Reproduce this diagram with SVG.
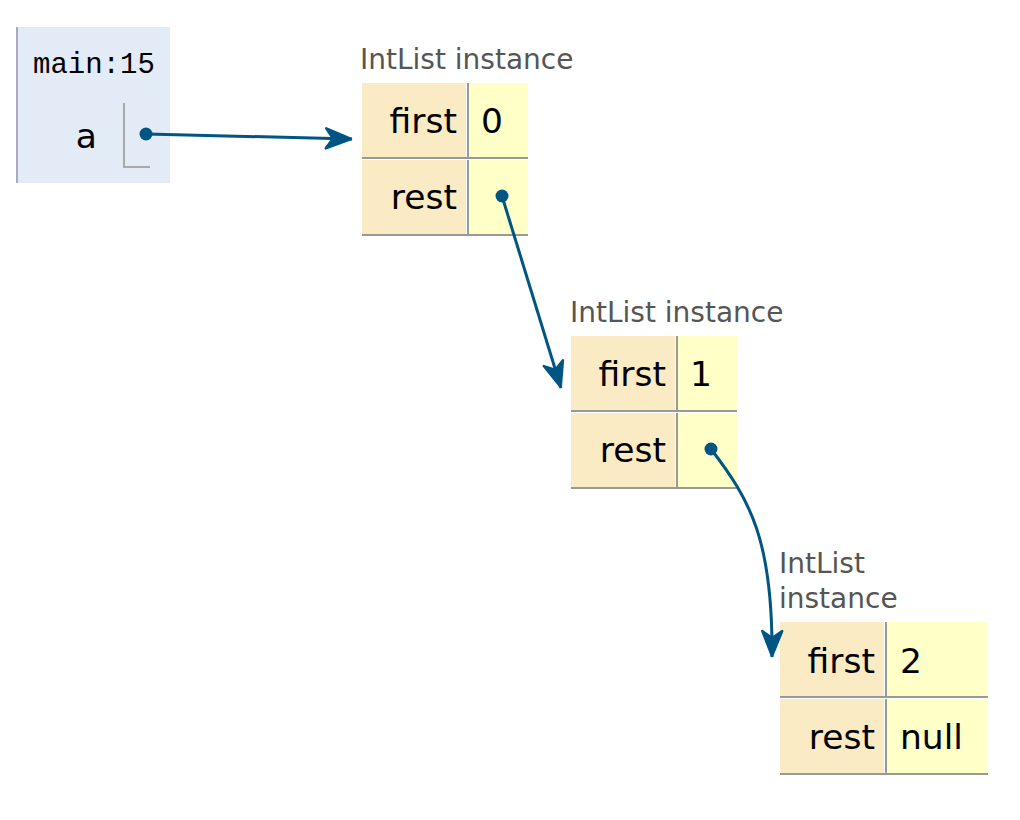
<svg xmlns="http://www.w3.org/2000/svg" width="1020" height="820" viewBox="0 0 1020 820">
<style>
.key{fill:#faebc4}
.val{fill:#ffffc8}
.bd{stroke:#999;stroke-width:2;fill:none}
.lbl{font-family:"DejaVu Sans",Verdana,sans-serif;font-size:28px;fill:#555}
.fld{font-family:"DejaVu Sans",Verdana,sans-serif;font-size:34.5px;fill:#000}
.kt{text-anchor:end}
.ptr{stroke:#005583;stroke-width:3;fill:none}
.dot{fill:#005583}
</style>
<defs>
<marker id="ah" markerUnits="userSpaceOnUse" markerWidth="40" markerHeight="30" viewBox="-30 -15 40 30" refX="0" refY="0" orient="auto">
<path d="M-26,-10 L-1,0 L-26,10 L-19,0 Z" fill="#005583" stroke="#005583" stroke-width="2.5" stroke-linejoin="round"/>
</marker>
</defs>
<rect width="1020" height="820" fill="#fff"/>
<g id="frame-main">
<rect x="17" y="27" width="153" height="156" fill="#e2ebf6"/>
<line x1="17" y1="27" x2="17" y2="183" stroke="#aab" stroke-width="2"/>
<text x="33" y="73" style="font-family:'Liberation Mono',monospace;font-size:29px;fill:#000">main:15</text>
<text x="97" y="148" class="fld kt">a</text>
<polyline points="124,103 124,167 150,167" stroke="#aaa" stroke-width="2" fill="none"/>
</g>
<g id="node1" transform="translate(362,83)">
<text x="-2" y="-14" class="lbl">IntList instance</text>
<rect x="0" y="0" width="104" height="74" class="key"/>
<rect x="107" y="0" width="59" height="74" class="val"/>
<line x1="0" y1="75" x2="166" y2="75" class="bd"/>
<line x1="106" y1="0" x2="106" y2="76" class="bd"/>
<rect x="0" y="77" width="104" height="74" class="key"/>
<rect x="107" y="77" width="59" height="74" class="val"/>
<line x1="0" y1="152" x2="166" y2="152" class="bd"/>
<line x1="106" y1="77" x2="106" y2="153" class="bd"/>
<text x="95" y="50" class="fld kt">first</text>
<text x="119" y="50" class="fld">0</text>
<text x="95" y="126" class="fld kt">rest</text>
</g>
<g id="node2" transform="translate(571,336)">
<text x="-1" y="-14" class="lbl">IntList instance</text>
<rect x="0" y="0" width="104" height="74" class="key"/>
<rect x="107" y="0" width="59" height="74" class="val"/>
<line x1="0" y1="75" x2="166" y2="75" class="bd"/>
<line x1="106" y1="0" x2="106" y2="76" class="bd"/>
<rect x="0" y="77" width="104" height="74" class="key"/>
<rect x="107" y="77" width="59" height="74" class="val"/>
<line x1="0" y1="152" x2="166" y2="152" class="bd"/>
<line x1="106" y1="77" x2="106" y2="153" class="bd"/>
<text x="95" y="50" class="fld kt">first</text>
<text x="119" y="50" class="fld">1</text>
<text x="95" y="126" class="fld kt">rest</text>
</g>
<g id="node3" transform="translate(780,622)">
<text x="-1" y="-49" class="lbl">IntList</text>
<text x="-1" y="-14" class="lbl">instance</text>
<rect x="0" y="0" width="104" height="74" class="key"/>
<rect x="107" y="0" width="101" height="74" class="val"/>
<line x1="0" y1="75" x2="208" y2="75" class="bd"/>
<line x1="106" y1="0" x2="106" y2="76" class="bd"/>
<rect x="0" y="77" width="104" height="74" class="key"/>
<rect x="107" y="77" width="101" height="74" class="val"/>
<line x1="0" y1="152" x2="208" y2="152" class="bd"/>
<line x1="106" y1="77" x2="106" y2="153" class="bd"/>
<text x="95" y="51" class="fld kt">first</text>
<text x="120" y="51" class="fld">2</text>
<text x="95" y="127" class="fld kt">rest</text>
<text x="120" y="127" class="fld">null</text>
</g>
<g id="connectors">
<path d="M146,134 L352,139" class="ptr" marker-end="url(#ah)"/>
<circle cx="146" cy="134" r="6.5" class="dot"/>
<path d="M502,196 L561,388" class="ptr" marker-end="url(#ah)"/>
<circle cx="502" cy="196" r="6.5" class="dot"/>
<path d="M711,449 C750,500 773,540 772,657" class="ptr" marker-end="url(#ah)"/>
<circle cx="711" cy="449" r="6.5" class="dot"/>
</g>
</svg>
